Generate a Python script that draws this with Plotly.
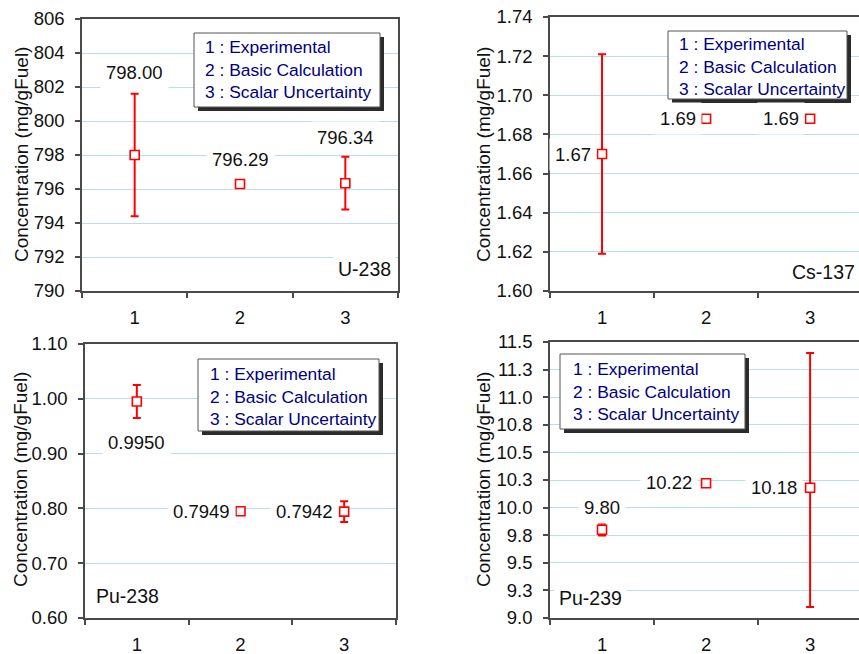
import plotly.graph_objects as go

W, H = 859, 654

# ---------------- data ----------------
categories = ["1", "2", "3"]

u238_vals = [798.00, 796.29, 796.34]
u238_err = [3.6, None, 1.55]
u238_labels = ["798.00", "796.29", "796.34"]
u238_ticks = [790, 792, 794, 796, 798, 800, 802, 804, 806]
u238_ticktext = ["790", "792", "794", "796", "798", "800", "802", "804", "806"]

cs137_vals = [1.670, 1.688, 1.688]
cs137_err = [0.051, None, None]
cs137_labels = ["1.67", "1.69", "1.69"]
cs137_ticks = [1.60, 1.62, 1.64, 1.66, 1.68, 1.70, 1.72, 1.74]
cs137_ticktext = ["1.60", "1.62", "1.64", "1.66", "1.68", "1.70", "1.72", "1.74"]

pu238_vals = [0.9950, 0.7949, 0.7942]
pu238_err = [0.030, None, 0.019]
pu238_labels = ["0.9950", "0.7949", "0.7942"]
pu238_ticks = [0.60, 0.70, 0.80, 0.90, 1.00, 1.10]
pu238_ticktext = ["0.60", "0.70", "0.80", "0.90", "1.00", "1.10"]

pu239_vals = [9.80, 10.22, 10.18]
pu239_err_plus = [0.053, None, 1.22]
pu239_err_minus = [0.053, None, 1.08]
pu239_labels = ["9.80", "10.22", "10.18"]
pu239_ticks = [9.0, 9.25, 9.5, 9.75, 10.0, 10.25, 10.5, 10.75, 11.0, 11.25, 11.5]
pu239_ticktext = ["9.0", "9.3", "9.5", "9.8", "10.0", "10.3", "10.5", "10.8", "11.0", "11.3", "11.5"]

nuclides = ["U-238", "Cs-137", "Pu-238", "Pu-239"]
legend_lines = ["1 : Experimental", "2 : Basic Calculation", "3 : Scalar Uncertainty"]
y_title = "Concentration (mg/gFuel)"

# ---------------- styling / layout ----------------
FONT = "Liberation Sans, Arial, sans-serif"
RED = "#ff0000"
GRID = "#bcdcf5"
AXIS = "#4a4a4a"
NAVY = "#000080"
TXT = "#111111"


def px(x):
    return x / W


def py(y):
    return 1 - y / H


panels = [
    dict(vals=u238_vals, ep=u238_err, em=u238_err, labels=u238_labels,
         ticks=u238_ticks, ticktext=u238_ticktext, yr=[790, 806],
         xd=[82, 398], yd=[19, 291], xr=[-0.5, 2.5], right=True,
         shifts=[(0, 83), (0, 25), (0, 46)],
         name=(364, 269), title_x=22, title_y=155,
         legend=dict(box=(194, 33, 380, 107), tx=203, ty=69)),
    dict(vals=cs137_vals, ep=cs137_err, em=cs137_err, labels=cs137_labels,
         ticks=cs137_ticks, ticktext=cs137_ticktext, yr=[1.60, 1.74],
         xd=[550, 859], yd=[17, 291], xr=[-0.5, 2.47], right=False,
         shifts=[(-29, 0), (-28, 0), (-29, 0)],
         name=(823, 272), title_x=484, title_y=155,
         legend=dict(box=(668, 31, 847, 99), tx=677, ty=66)),
    dict(vals=pu238_vals, ep=pu238_err, em=pu238_err, labels=pu238_labels,
         ticks=pu238_ticks, ticktext=pu238_ticktext, yr=[0.60, 1.10],
         xd=[85, 396], yd=[344, 618], xr=[-0.5, 2.5], right=True,
         shifts=[(0, -41), (-39, 0), (-40, 0)],
         name=(127, 596), title_x=20, title_y=480,
         legend=dict(box=(198, 359, 379, 431), tx=208, ty=396)),
    dict(vals=pu239_vals, ep=pu239_err_plus, em=pu239_err_minus, labels=pu239_labels,
         ticks=pu239_ticks, ticktext=pu239_ticktext, yr=[9.0, 11.5],
         xd=[550, 859], yd=[342, 618], xr=[-0.5, 2.47], right=False,
         shifts=[(0, 22), (-37, 1), (-36, 0)],
         name=(590, 598), title_x=483, title_y=480,
         legend=dict(box=(560, 354, 745, 429), tx=571, ty=391)),
]

fig = go.Figure()
annotations = []
shapes = []

for i, p in enumerate(panels):
    k = "" if i == 0 else str(i + 1)
    xa, ya = "x" + k, "y" + k
    fig.add_trace(go.Scatter(
        x=categories, y=p["vals"], mode="markers", xaxis=xa, yaxis=ya,
        marker=dict(symbol="square", size=9, color="white",
                    line=dict(color=RED, width=1.6)),
        error_y=dict(type="data", array=p["ep"], arrayminus=p["em"], symmetric=False,
                     color=RED, thickness=2, width=4),
        showlegend=False, hoverinfo="skip", cliponaxis=False,
    ))
    fig.layout["xaxis" + k] = dict(
        type="category", domain=[px(p["xd"][0]), px(p["xd"][1])], range=p["xr"],
        anchor=ya, tickson="boundaries", ticks="outside", ticklen=5, tickwidth=1.5,
        tickcolor=AXIS, showline=True, linecolor=AXIS, linewidth=1.5, mirror=True,
        showgrid=False, zeroline=False, ticklabelstandoff=9, automargin=False,
        tickfont=dict(family=FONT, size=18.5, color=TXT),
    )
    fig.layout["yaxis" + k] = dict(
        domain=[py(p["yd"][1]), py(p["yd"][0])], range=p["yr"], anchor=xa,
        tickmode="array", tickvals=p["ticks"], ticktext=p["ticktext"],
        ticks="outside", ticklen=5, tickwidth=1.5, tickcolor=AXIS,
        showline=True, linecolor=AXIS, linewidth=1.5, mirror=p["right"],
        showgrid=True, gridcolor=GRID, gridwidth=1, zeroline=False,
        ticklabelstandoff=7, automargin=False,
        tickfont=dict(family=FONT, size=18.5, color=TXT),
    )
    # data labels (positioned at the category index / value of each point)
    for j, (v, lab, (dx, dy)) in enumerate(zip(p["vals"], p["labels"], p["shifts"])):
        annotations.append(dict(
            x=j, y=v, xref=xa, yref=ya, text=lab, showarrow=False,
            xshift=dx, yshift=dy, xanchor="center", yanchor="middle",
            bgcolor="white", borderpad=5,
            font=dict(family=FONT, size=18.5, color=TXT),
        ))
    # nuclide label
    nx, ny = p["name"]
    annotations.append(dict(
        x=px(nx), y=py(ny), xref="paper", yref="paper", text=nuclides[i],
        showarrow=False, xanchor="center", yanchor="middle",
        bgcolor="white", borderpad=4,
        font=dict(family=FONT, size=19.5, color=TXT),
    ))
    # y title
    annotations.append(dict(
        x=px(p["title_x"]), y=py(p["title_y"]), xref="paper", yref="paper",
        text=y_title, showarrow=False, textangle=-90,
        xanchor="center", yanchor="middle",
        font=dict(family=FONT, size=19, color=TXT),
    ))
    # legend box with shadow
    x0, y0, x1, y1 = p["legend"]["box"]
    shapes.append(dict(type="rect", xref="paper", yref="paper",
                       x0=px(x0 + 4), x1=px(x1 + 4), y0=py(y1 + 4), y1=py(y0 + 4),
                       fillcolor="#2b2b2b", line=dict(width=0), layer="above"))
    shapes.append(dict(type="rect", xref="paper", yref="paper",
                       x0=px(x0), x1=px(x1), y0=py(y1), y1=py(y0),
                       fillcolor="white", line=dict(color="#555555", width=1), layer="above"))
    annotations.append(dict(
        x=px(p["legend"]["tx"]), y=py(p["legend"]["ty"]), xref="paper", yref="paper",
        text="<br>".join(legend_lines), showarrow=False, align="left",
        xanchor="left", yanchor="middle",
        font=dict(family=FONT, size=17.4, color=NAVY),
    ))

fig.update_layout(
    width=W, height=H, margin=dict(l=0, r=0, t=0, b=0, autoexpand=False),
    paper_bgcolor="white", plot_bgcolor="white",
    annotations=annotations, shapes=shapes,
    font=dict(family=FONT),
)

fig.write_html("out.html")
